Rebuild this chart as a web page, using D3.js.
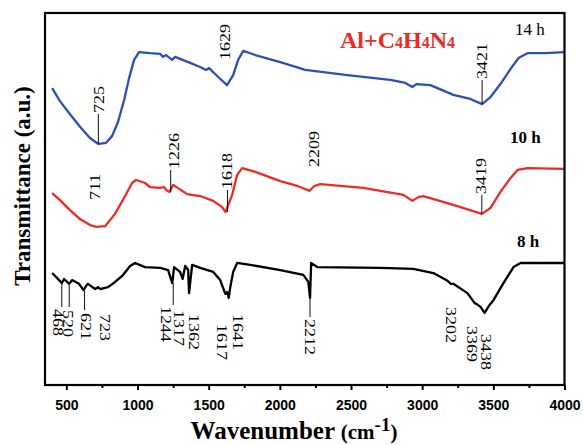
<!DOCTYPE html>
<html><head><meta charset="utf-8">
<script src="https://cdn.jsdelivr.net/npm/d3@7"></script>
<style>body{margin:0;background:#fff}svg{display:block}</style>
</head><body>
<svg id="c" width="583" height="445"></svg>
<script>
// ---- data (wavenumber cm-1, transmittance a.u.) ----
const xTicks = [500,1000,1500,2000,2500,3000,3500,4000];
const xMinorTicks = [750,1250,1750,2250,2750,3250,3750];
const seriesNames = ["14 h","10 h","8 h"];
const series14h = [[400,79.8],[455,76.3],[526,72.8],[596,69.4],[666,66.4],[725,64.8],[779,65.1],[821,66.9],[863,70.7],[906,76.6],[941,82.5],[976,87.4],[1011,89.5],[1088,89.2],[1159,89.0],[1180,88.2],[1201,88.7],[1243,87.4],[1264,88.2],[1370,86.6],[1440,85.5],[1482,84.7],[1503,85.2],[1567,82.8],[1629,80.6],[1672,83.3],[1707,87.4],[1743,89.8],[1827,88.7],[2003,86.8],[2179,84.7],[2474,83.3],[2776,82.0],[2882,81.2],[2931,80.1],[2959,80.9],[3058,80.6],[3219,78.0],[3339,76.9],[3421,75.5],[3480,77.4],[3550,80.9],[3620,84.9],[3677,87.9],[3740,89.2],[3866,89.2],[4000,89.5]];
const series10h = [[400,51.6],[455,49.7],[526,47.0],[596,44.6],[666,43.0],[711,42.5],[772,42.7],[842,46.0],[913,50.8],[962,54.3],[990,55.1],[1053,54.3],[1088,53.2],[1159,53.0],[1187,53.2],[1208,52.2],[1226,51.9],[1250,53.8],[1349,51.3],[1440,50.8],[1532,49.5],[1595,47.8],[1618,46.5],[1665,51.1],[1700,56.5],[1735,58.3],[1827,57.3],[2003,54.8],[2122,53.5],[2178,52.7],[2209,52.2],[2242,53.5],[2284,54.0],[2586,53.0],[2868,51.1],[2931,49.5],[2973,50.5],[3008,50.8],[3219,48.4],[3419,46.0],[3480,47.6],[3550,51.9],[3620,55.6],[3670,57.8],[3740,58.3],[4000,58.1]];
const series8h = [[400,30.1],[434,28.8],[468,27.4],[484,28.5],[498,28.0],[520,27.2],[540,28.2],[589,27.2],[621,25.5],[638,26.6],[652,27.2],[702,25.8],[723,26.3],[737,25.8],[793,26.3],[842,27.7],[892,29.3],[948,32.0],[983,32.8],[1053,31.7],[1159,31.5],[1215,30.9],[1244,27.4],[1257,31.7],[1299,30.4],[1317,28.5],[1335,32.0],[1356,30.9],[1362,24.7],[1384,32.3],[1440,31.5],[1532,30.4],[1581,28.2],[1617,24.5],[1630,25.0],[1641,23.4],[1651,26.1],[1672,30.4],[1700,32.8],[1792,32.3],[2003,30.9],[2165,29.6],[2200,27.7],[2212,23.4],[2220,32.8],[2263,31.7],[2706,31.5],[2938,31.2],[3079,30.1],[3178,28.0],[3202,27.2],[3219,27.2],[3318,24.7],[3369,22.0],[3381,21.8],[3410,21.0],[3438,19.4],[3473,21.5],[3501,22.8],[3571,27.4],[3642,31.7],[3691,32.8],[4000,32.8]];
const peaks14h = ["725","1629","3421"];
const peaks10h = ["711","1226","1618","2209","3419"];
const peaks8h = ["468","520","621","723","1244","1317","1362","1617","1641","2212","3202","3369","3438"];
const sampleLabel = "Al+C4H4N4";

// ---- layout ----
const m = {l:45, r:564.5, t:13, b:385};
const svg = d3.select("#c");
const x = d3.scaleLinear().domain([350,4000]).range([m.l, m.r]);
const y = d3.scaleLinear().domain([0,100]).range([m.b, m.t]);
const colors = ["#2f4fb3","#ee2a24","#000000"];
const allSeries = [series14h, series10h, series8h];
const serif = "Liberation Serif, Times New Roman, serif";

const line = d3.line().x(d=>x(d[0])).y(d=>y(d[1]));
allSeries.forEach((s,i)=>{
  svg.append("path").datum(s).attr("d",line).attr("fill","none")
    .attr("stroke",colors[i]).attr("stroke-width",2.3).attr("stroke-linejoin","round");
});

// frame
svg.append("rect").attr("x",m.l).attr("y",m.t).attr("width",m.r-m.l).attr("height",m.b-m.t)
  .attr("fill","none").attr("stroke","#000").attr("stroke-width",2.2);

// x axis
const ax = d3.axisBottom(x).tickValues(xTicks).tickSize(5).tickPadding(10).tickFormat(d3.format("d"));
const g = svg.append("g").attr("transform",`translate(0,${m.b})`).call(ax);
g.select(".domain").remove();
g.selectAll(".tick line").attr("stroke-width",2);
g.selectAll(".tick text").attr("font-family","Liberation Sans, Arial, sans-serif")
  .attr("font-weight","bold").attr("font-size",14).attr("fill","#000");
const axm = d3.axisBottom(x).tickValues(xMinorTicks).tickSize(3).tickFormat("");
const gm = svg.append("g").attr("transform",`translate(0,${m.b})`).call(axm);
gm.select(".domain").remove();
gm.selectAll(".tick line").attr("stroke-width",2);

// axis titles
const xt = svg.append("text").attr("x",294).attr("y",439).attr("text-anchor","middle")
  .attr("font-family",serif).attr("font-weight","bold").attr("fill","#000");
xt.append("tspan").attr("font-size",25).text("Wavenumber ");
xt.append("tspan").attr("font-size",21).text("(cm");
xt.append("tspan").attr("font-size",19).attr("dy",-8).text("-1");
xt.append("tspan").attr("font-size",21).attr("dy",8).text(")");

svg.append("text").attr("transform","translate(30,186) rotate(-90)").attr("text-anchor","middle")
  .attr("font-family",serif).attr("font-weight","bold")
  .attr("font-size",23).attr("fill","#000").text("Transmittance (a.u.)");

// sample label
const st = svg.append("text").attr("x",340).attr("y",48).attr("fill","#ee2a24")
  .attr("font-family",serif).attr("font-weight","bold").attr("font-size",24);
sampleLabel.match(/[A-Za-z+]+|\d/g).forEach(p=>{
  if(/\d/.test(p)) st.append("tspan").attr("font-size",16).text(p);
  else st.append("tspan").attr("font-size",24).text(p);
});

// series labels
const nameLayout = [{x:515,y:35,w:"normal"},{x:510,y:143,w:"bold"},{x:517,y:247,w:"bold"}];
seriesNames.forEach((n,i)=>{
  svg.append("text").attr("x",nameLayout[i].x).attr("y",nameLayout[i].y)
    .attr("font-family",serif).attr("font-weight",nameLayout[i].w)
    .attr("font-size",17).attr("fill","#000").text(n);
});

// peak annotations: text center x offset (dx), leader line (y px), text start y (ty)
const up = -90, down = 90;
const annLayout = {
  "14h": [{dx:1,l:[144,114],ty:113},{dx:-2,ty:60},{dx:0,l:[104,80],ty:79}],
  "10h": [{dx:-1,ty:200},{dx:4,l:[192,170],ty:169,lx:1},{dx:2,l:[212,190],ty:189,lx:2},{dx:4,ty:167},{dx:-1,l:[214,195],ty:194}],
  "8h": [{dx:-4,l:[283,307],ty:309},{dx:-1,l:[285,307],ty:310},{dx:2,l:[291,310],ty:313,lx:1},{dx:7,ty:314},
         {dx:-6,l:[283,305],ty:306,lx:1},{dx:-4,ty:310},{dx:5,ty:314},{dx:-3,ty:324},{dx:9,ty:314},
         {dx:0,l:[299,317],ty:319},{dx:0,ty:307},{dx:-3,ty:326},{dx:1,ty:334}]
};
function annotate(peaks, lay, rot){
  peaks.forEach((p,i)=>{
    const L = lay[i];
    const px = x(+p);
    if(L.l){
      svg.append("line").attr("x1",px+(L.lx||0)).attr("x2",px+(L.lx||0)).attr("y1",L.l[0]).attr("y2",L.l[1])
        .attr("stroke","#111").attr("stroke-width",1);
    }
    svg.append("text").attr("transform",`translate(${px+L.dx},${L.ty}) rotate(${rot}) scale(1.2,1)`)
      .attr("dominant-baseline","central").attr("text-anchor","start")
      .attr("font-family",serif).attr("font-size",15)
      .attr("fill","#000").text(p);
  });
}
annotate(peaks14h, annLayout["14h"], up);
annotate(peaks10h, annLayout["10h"], up);
annotate(peaks8h, annLayout["8h"], down);
</script>
</body></html>
